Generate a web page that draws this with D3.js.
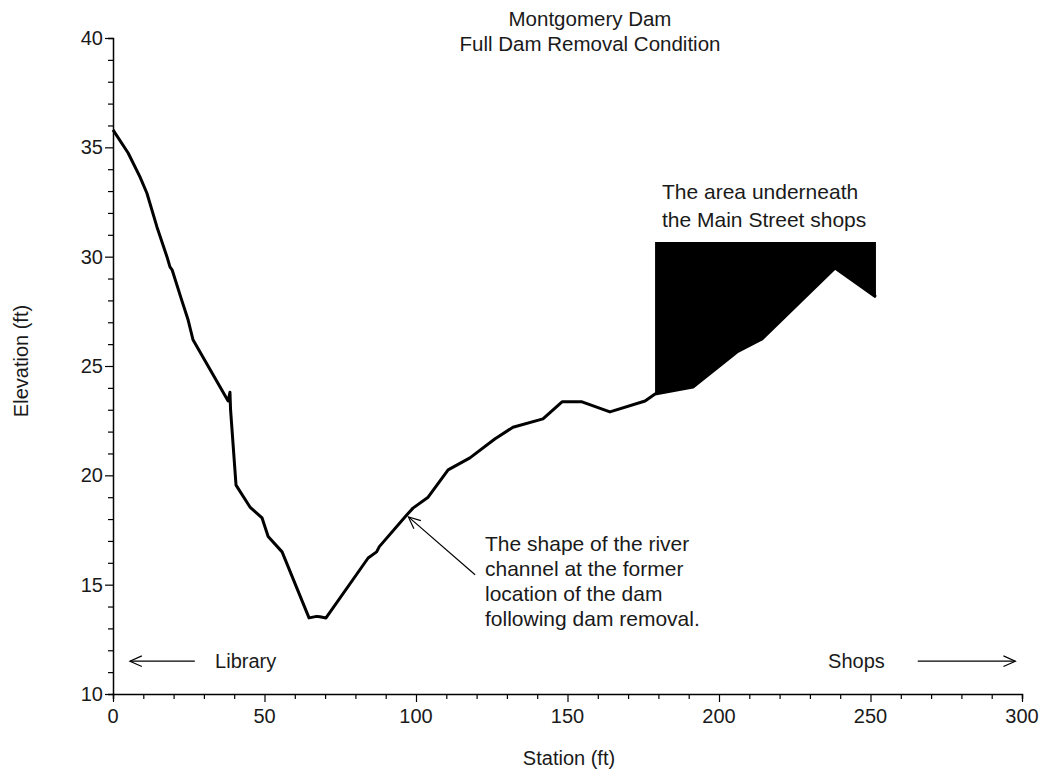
<!DOCTYPE html>
<html><head><meta charset="utf-8">
<script src="https://cdn.jsdelivr.net/npm/d3@7"></script>
<style>body{margin:0;background:#fff}svg{display:block}text{font-family:"Liberation Sans",Arial,sans-serif;fill:#1a1a1a}</style>
</head><body><svg id="c" width="1045" height="773"></svg>
<script>
const station = [0,5,8.9,11.2,14.5,17.8,18.8,19.5,22.7,24.8,26.4,38,38.6,38.8,40.6,45.2,49.2,51.2,55.8,64.7,67.2,68.3,70.3,84.2,87.0,87.9,97.0,99.0,104.0,110.6,117.8,126.0,132.0,141.9,148.2,154.8,164.0,175.6,178.9,191.4,205.9,214.2,238.3,251.8];
const elevation = [35.8,34.74,33.65,32.9,31.36,30.0,29.53,29.4,28.0,27.1,26.2,23.4,23.8,23.0,19.55,18.55,18.05,17.2,16.5,13.48,13.55,13.53,13.48,16.22,16.5,16.74,18.2,18.5,19.0,20.25,20.8,21.66,22.2,22.58,23.36,23.36,22.9,23.4,23.72,24.04,25.64,26.24,29.48,28.16];
const shopsStart = 178.9, shopsTop = 30.67;
const xMajor = [0,50,100,150,200,250,300];
const yMajor = [10,15,20,25,30,35,40];
const titleLines = ["Montgomery Dam","Full Dam Removal Condition"];
const noteShops = ["The area underneath","the Main Street shops"];
const noteChannel = ["The shape of the river","channel at the former","location of the dam","following dam removal."];

const svg = d3.select("#c");
const L=113,R=1022,T=38,B=694;
const x = d3.scaleLinear().domain([0,300]).range([L,R]);
const y = d3.scaleLinear().domain([10,40]).range([B,T]);
const data = station.map((s,i)=>({s, e:elevation[i]}));

// fill
const shopData = data.filter(d=>d.s>=shopsStart);
svg.append("path").datum(shopData)
  .attr("d", d3.area().x(d=>x(d.s)).y0(y(shopsTop)).y1(d=>y(d.e)))
  .attr("fill","#000");

// line
svg.append("path").datum(data)
  .attr("d", d3.line().x(d=>x(d.s)).y(d=>y(d.e)))
  .attr("fill","none").attr("stroke","#000").attr("stroke-width",3).attr("stroke-linejoin","round");

// axes
const xAx = svg.append("g").attr("transform",`translate(0,${B})`);
xAx.call(d3.axisBottom(x).tickValues(d3.range(0,301,10)).tickSize(5).tickFormat(""));
xAx.call(g=>g.selectAll(".tick").filter(d=>d%50===0).select("line").attr("y2",8));
const yAx = svg.append("g").attr("transform",`translate(${L},0)`);
yAx.call(d3.axisLeft(y).tickValues(d3.range(10,41,1)).tickSize(5).tickFormat(""));
yAx.call(g=>g.selectAll(".tick").filter(d=>d%5===0).select("line").attr("x2",-8));
[xAx,yAx].forEach(g=>{g.select(".domain").attr("stroke","#000").attr("stroke-width",1.5);g.selectAll(".tick line").attr("stroke","#000").attr("stroke-width",1.2);});

svg.selectAll(".xl").data(xMajor).join("text").attr("x",d=>x(d)).attr("y",723)
  .attr("text-anchor","middle").attr("font-size",20).text(d=>d);
svg.selectAll(".yl").data(yMajor).join("text").attr("x",L-10).attr("y",d=>y(d)+7)
  .attr("text-anchor","end").attr("font-size",20).text(d=>d);

svg.append("text").attr("x",569).attr("y",765).attr("text-anchor","middle").attr("font-size",20).text("Station (ft)");
svg.append("text").attr("transform","translate(28,361) rotate(-90)").attr("text-anchor","middle").attr("font-size",20).text("Elevation (ft)");

svg.selectAll(".tt").data(titleLines).join("text").attr("x",590).attr("y",(d,i)=>26+i*25)
  .attr("text-anchor","middle").attr("font-size",20.5).text(d=>d);
svg.selectAll(".ns").data(noteShops).join("text").attr("x",662).attr("y",(d,i)=>199+i*28)
  .attr("font-size",21).text(d=>d);
svg.selectAll(".nc").data(noteChannel).join("text").attr("x",485).attr("y",(d,i)=>551+i*25)
  .attr("font-size",21).text(d=>d);

function arrow(x1,y1,x2,y2){ // tip at x2,y2
  svg.append("line").attr("x1",x1).attr("y1",y1).attr("x2",x2).attr("y2",y2).attr("stroke","#000").attr("stroke-width",1.2);
  const a=Math.atan2(y1-y2,x1-x2), len=13, sp=0.42;
  const p=[[x2+len*Math.cos(a+sp),y2+len*Math.sin(a+sp)],[x2,y2],[x2+len*Math.cos(a-sp),y2+len*Math.sin(a-sp)]];
  svg.append("path").attr("d",d3.line()(p)).attr("fill","none").attr("stroke","#000").attr("stroke-width",1.2);
}
arrow(x(119.5),y(15.45),x(97.5),y(18.1));
arrow(x(27),y(11.5),x(5.6),y(11.5));
arrow(x(265.6),y(11.5),x(297.8),y(11.5));
svg.append("text").attr("x",x(33.7)).attr("y",y(11.5)+7).attr("font-size",20).text("Library");
svg.append("text").attr("x",x(236)).attr("y",y(11.5)+7).attr("font-size",20).text("Shops");
</script></body></html>
